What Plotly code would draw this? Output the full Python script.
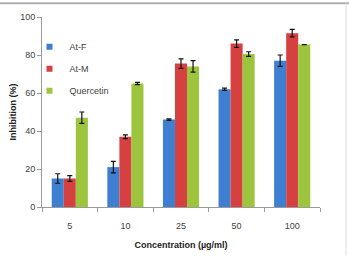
import plotly.graph_objects as go

categories = ["5", "10", "25", "50", "100"]
at_f = [15, 21, 46, 62, 77]
at_f_err = [2.5, 3, 0.4, 0.6, 3]
at_m = [15, 37, 75.5, 86, 91.5]
at_m_err = [1.5, 1, 2.5, 2, 2]
quercetin = [47, 65, 74, 80.5, 85.5]
quercetin_err = [3, 0.6, 3, 1.2, 0]

series = [
    ("At-F", at_f, at_f_err, "#3f7fd2"),
    ("At-M", at_m, at_m_err, "#d54040"),
    ("Quercetin", quercetin, quercetin_err, "#9cc43c"),
]

fig = go.Figure()
for name, vals, errs, col in series:
    fig.add_trace(go.Bar(
        x=categories, y=vals, name=name, showlegend=False,
        marker=dict(color=col, line=dict(color=col, width=0)),
        error_y=dict(type="data", array=errs, visible=True, color="#111111", thickness=1.2, width=2.5),
    ))
for name, vals, errs, col in series:
    fig.add_trace(go.Scatter(
        x=[None], y=[None], mode="markers", name=name, legendgroup=name,
        marker=dict(symbol="square", size=6, color=col),
    ))

fig.update_layout(
    width=349, height=256,
    margin=dict(l=42, r=29, t=15, b=49),
    paper_bgcolor="white", plot_bgcolor="white",
    barmode="group", bargap=0.35, bargroupgap=0.0,
    font=dict(family="Liberation Sans, Arial, sans-serif", size=9, color="#404040"),
    legend=dict(x=-0.045, y=0.92, xanchor="left", yanchor="top",
                font=dict(size=9, color="#404040"), bgcolor="rgba(0,0,0,0)",
                tracegroupgap=3, itemwidth=30, traceorder="grouped"),
    showlegend=True,
    xaxis=dict(
        automargin=False,
        showline=True, linecolor="#9a9a9a", linewidth=1,
        ticks="outside", tickson="boundaries", ticklen=4, tickcolor="#9a9a9a",
        ticklabelstandoff=10,
        title=dict(text="<b>Concentration (µg/ml)</b>", font=dict(size=9, color="#222222"), standoff=11),
        tickfont=dict(size=9, color="#404040"),
    ),
    yaxis=dict(
        automargin=True,
        range=[0, 100], dtick=20, showgrid=False, zeroline=False,
        showline=True, linecolor="#9a9a9a", linewidth=1,
        ticks="outside", ticklen=4, tickcolor="#9a9a9a",
        title=dict(text="<b>Inhibition (%)</b>", font=dict(size=9, color="#222222"), standoff=2),
        tickfont=dict(size=9, color="#404040"),
    ),
    shapes=[
        dict(type="line", xref="paper", yref="paper", x0=-42/278, x1=1+29/278, y0=1+14/192, y1=1+14/192,
             line=dict(color="#b0b0b0", width=2)),
        dict(type="line", xref="paper", yref="paper", x0=1+26/278, x1=1+26/278, y0=-49/192, y1=1+14/192,
             line=dict(color="#dddddd", width=1)),
    ],
)

fig.write_html("out.html")
